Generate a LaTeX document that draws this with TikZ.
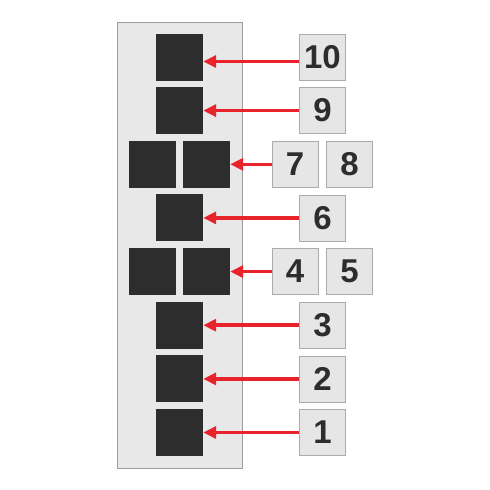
\documentclass[tikz,border=0pt]{standalone}
\usepackage{fontspec}
\setmainfont{Liberation Sans}
\usetikzlibrary{arrows.meta}
\definecolor{panelgray}{HTML}{E8E8E8}
\definecolor{panelline}{HTML}{9C9C9C}
\definecolor{boxgray}{HTML}{E6E6E6}
\definecolor{boxline}{HTML}{ABABAB}
\definecolor{blkgray}{HTML}{2D2D2D}
\definecolor{arrred}{HTML}{E8232C}

\begin{document}
\begin{tikzpicture}[x=1pt, y=-1pt,
	blk/.style = {fill=blkgray, minimum size=47pt, inner sep=0pt},
	lbl/.style = {draw=boxline, fill=boxgray, line width=0.8pt, minimum size=46pt, inner sep=0pt,
		font=\fontsize{33}{33}\selectfont\bfseries, text=blkgray},
	arr/.style = {draw=arrred, line width=3.6pt, -{Triangle[length=13pt, width=12pt]}}]
	\useasboundingbox (0,0) rectangle (490,490);
	\draw[draw=panelline, fill=panelgray, line width=0.8pt] (117,22) rectangle (242,468);
	\node[blk] (s10) at (179.5,57) {};
	\node[blk] (s9) at (179.5,110.6) {};
	\node[blk] (s8) at (152,164.3) {}; \node[blk] (s7) at (206.5,164.3) {};
	\node[blk] (s6) at (179.5,217.9) {};
	\node[blk] (s5) at (152,271.6) {}; \node[blk] (s4) at (206.5,271.6) {};
	\node[blk] (s3) at (179.5,325.2) {};
	\node[blk] (s2) at (179.5,378.9) {};
	\node[blk] (s1) at (179.5,432.5) {};
	\node[lbl] (l10) at (322.5,57) {10};
	\node[lbl] (l9) at (322.5,110.6) {9};
	\node[lbl] (l7) at (295,164.3) {7}; \node[lbl] (l8) at (349.5,164.3) {8};
	\node[lbl] (l6) at (322.5,217.9) {6};
	\node[lbl] (l4) at (295,271.6) {4}; \node[lbl] (l5) at (349.5,271.6) {5};
	\node[lbl] (l3) at (322.5,325.2) {3};
	\node[lbl] (l2) at (322.5,378.9) {2};
	\node[lbl] (l1) at (322.5,432.5) {1};
	\draw[arr] ([yshift=-4.5pt]l10.west) -- ([yshift=-4.5pt]s10.east);
	\draw[arr] (l9.west) -- (s9.east);
	\draw[arr] (l7.west) -- (s7.east);
	\draw[arr] (l6.west) -- (s6.east);
	\draw[arr] (l4.west) -- (s4.east);
	\draw[arr] (l3.west) -- (s3.east);
	\draw[arr] (l2.west) -- (s2.east);
	\draw[arr] (l1.west) -- (s1.east);
\end{tikzpicture}
\end{document}
